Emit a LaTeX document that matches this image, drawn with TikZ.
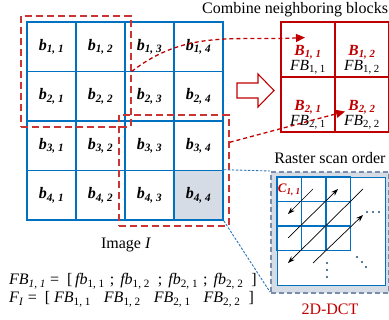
\documentclass[tikz,border=0pt]{standalone}
\usepackage{fontspec}
\setmainfont{Liberation Serif}
\usetikzlibrary{arrows.meta, positioning, calc, fit}

\definecolor{cBlue}{RGB}{0,112,192}
\definecolor{cRed}{RGB}{192,0,0}
\definecolor{cDash}{RGB}{204,51,51}
\definecolor{cShade}{RGB}{214,220,229}
\definecolor{cFrame}{RGB}{120,142,172}
\definecolor{cLink}{RGB}{46,117,182}
\definecolor{cDot}{RGB}{31,78,121}

\newcommand{\blab}[2]{{\bfseries\itshape b\textsubscript{#1, #2}}}
\newcommand{\Blab}[2]{{\color{cRed}\bfseries\itshape B\textsubscript{#1, #2}}}
\newcommand{\FBlab}[2]{\textit{FB}\textsubscript{#1, #2}}
\newcommand{\fblab}[2]{\textit{fb}\textsubscript{#1, #2}}

\begin{document}
\begin{tikzpicture}[
  x=1pt, y=1pt,
  every node/.style = {font=\fontsize{16}{19}\selectfont, inner sep=0pt},
  blkcell/.style = {draw=cBlue, line width=1.6pt, minimum width=49pt, minimum height=49.5pt},
  cell44/.style = {fill=cShade},
  redcell/.style = {draw=cRed, line width=1.1pt, minimum width=54pt, minimum height=55pt},
  redlab/.style = {anchor=base, font=\fontsize{15.5}{18}\selectfont},
  rastcell/.style = {draw=cBlue, line width=1.3pt, minimum size=24.5pt},
  group/.style = {draw=cDash, line width=1.8pt, dash pattern=on 7pt off 4pt, inner sep=5pt},
  move/.style = {-{Triangle[length=9pt, width=8pt]}, draw=cRed, line width=1.3pt, dash pattern=on 4pt off 3pt},
  scan/.style = {-{Stealth[length=7pt, width=5pt]}, line width=0.7pt},
  link/.style = {draw=cLink, line width=0.9pt, dash pattern=on 2.5pt off 1.5pt}
]
\useasboundingbox (0,0) rectangle (389,-320);

% Image I split into blocks
\foreach \r in {1,...,4}
  \foreach \c in {1,...,4}
    \node[blkcell, cell\r\c/.try] (b\r\c) at ({27+49*(\c-0.5)}, {-22-49.5*(\r-0.5)}) {\blab{\r}{\c}};

\node[group, fit=(b11)(b22)] (grpA) {};
\node[group, fit=(b33)(b44)] (grpB) {};

\node[anchor=base] (imglab) at (126,-249) {Image \textit{I}};

% Combined blocks
\node[anchor=base west] (title) at (202,-13.5) {Combine neighboring blocks};
\foreach \r in {1,2}
  \foreach \c in {1,2} {
    \node[redcell] (R\r\c) at ({281+54*(\c-0.5)}, {-22-55*(\r-0.5)}) {};
    \node[redlab] (L\r\c) at ([yshift=7pt]R\r\c.south) {\FBlab{\r}{\c}};
    \node[redlab] (K\r\c) at ([yshift=15.5pt]L\r\c.base) {\Blab{\r}{\c}};
  }

% hollow arrow
\draw[cRed, line width=1.1pt, fill=white] (237,-83) -- (258,-83) -- (258,-74) -- (274,-90.5)
  -- (258,-107) -- (258,-98) -- (237,-98) -- cycle;

\draw[move] (grpA.east) to[out=38, in=183] ([xshift=-3pt, yshift=12pt]R11.center);
\draw[move] ([yshift=-28pt]grpB.north east) -- ([xshift=-17pt, yshift=-7pt]R22.center);

% 2D-DCT and raster scan
\node[anchor=base] (rastlab) at (330,-164) {Raster scan order};
\draw[link] (b44.north east) -- (270,-171) coordinate (fnw);
\draw[link] (b44.south east) -- (270,-292) coordinate (fsw);
\node[draw=cFrame, fill=cShade, line width=1.6pt, dash pattern=on 5pt off 3pt,
      minimum width=118pt, minimum height=121pt, anchor=north west] (frame) at (fnw) {};
\node[draw=cBlue, fill=white, line width=1.3pt, minimum size=108pt, anchor=north west] (dct) at (277,-177) {};
\foreach \r in {1,2,3}
  \foreach \c in {1,2,3}
    \node[rastcell] (c\r\c) at ({277+24.5*(\c-0.5)}, {-177-24.5*(\r-0.5)}) {};
\node[text=cRed, font=\fontsize{13}{15}\selectfont\bfseries\itshape] (clab) at ([yshift=-1pt]c11.center) {C\textsubscript{1, 1}};

\coordinate (p1) at (313,-189); \coordinate (q1) at (288,-214);
\coordinate (p2) at (288,-238); \coordinate (q2) at (338,-189);
\coordinate (p3) at (363,-189); \coordinate (q3) at (288,-263);
\coordinate (p4) at (313,-263); \coordinate (q4) at (363,-215);
\foreach \i in {1,...,4}
  \draw[scan] (p\i) -- (q\i);

\foreach \x/\y in {367/212, 373/212, 379/212, 327/263, 327/270, 327/277, 357/257, 362/262, 366/267}
  \fill[cDot] (\x,-\y) circle (1.2pt);

\node[anchor=base, text=cRed] (dctlab) at (330,-315) {2D-DCT};

% Feature vectors
\node[anchor=base west] (eq1) at (9,-285)
  {\textit{FB}\textsubscript{\textit{1, 1}} = \ [\,\fblab{1}{1}\hspace{5pt};\hspace{6pt}\fblab{1}{2}\hspace{8pt};\hspace{6pt}\fblab{2}{1}\hspace{5pt};\hspace{6pt}\fblab{2}{2}\hspace{8pt}]};
\node[anchor=base west] (eq2) at (9,-303)
  {\textit{F}\textsubscript{\textit{I}} = \ [ \FBlab{1}{1}\hspace{13pt}\FBlab{1}{2}\hspace{13pt}\FBlab{2}{1}\hspace{13pt}\FBlab{2}{2} \ ]};

\end{tikzpicture}
\end{document}
